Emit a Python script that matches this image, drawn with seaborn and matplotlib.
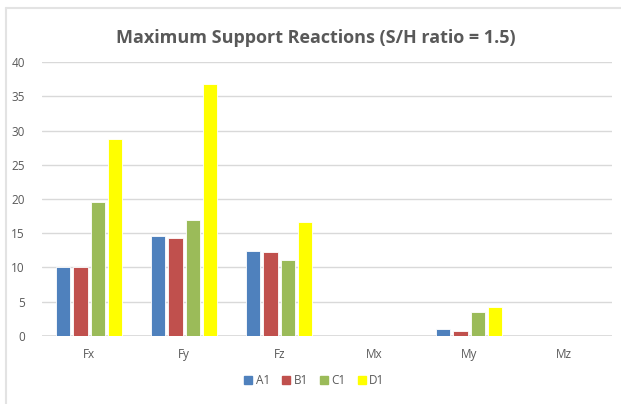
import pandas as pd
import seaborn as sns
import matplotlib.pyplot as plt
from matplotlib.lines import Line2D

categories = ['Fx', 'Fy', 'Fz', 'Mx', 'My', 'Mz']
series_names = ['A1', 'B1', 'C1', 'D1']
a1 = [10.0, 14.6, 12.45, 0, 1.05, 0]
b1 = [10.0, 14.25, 12.3, 0, 0.65, 0]
c1 = [19.55, 16.9, 11.1, 0, 3.5, 0]
d1 = [28.75, 36.85, 16.6, 0, 4.2, 0]
colors = ['#4F81BD', '#C0504D', '#9BBB59', '#FFFF00']

rows = []
for name, vals in zip(series_names, [a1, b1, c1, d1]):
    for cat, v in zip(categories, vals):
        rows.append({'cat': cat, 'series': name, 'value': v})
df = pd.DataFrame(rows)

sns.set_theme(style='white')
plt.rcParams['font.family'] = ['Open Sans', 'DejaVu Sans']
text_color = '#595959'
grid_color = '#D9D9D9'

fig = plt.figure(figsize=(6.21, 4.04), dpi=100)
ax = fig.add_axes([0.0671, 0.169, 0.918, 0.677])

sns.barplot(data=df, x='cat', y='value', hue='series', order=categories,
            hue_order=series_names, palette=colors, saturation=1, width=0.73,
            gap=0.18, edgecolor='white', linewidth=0.6, ax=ax, legend=False)

ax.set_ylim(0, 40)
ax.set_xlim(-0.5, 5.5)
ax.set_yticks(range(0, 41, 5))
ax.yaxis.grid(True, color=grid_color, linewidth=1)
ax.set_axisbelow(True)
for s in ax.spines.values():
    s.set_visible(False)
ax.axhline(0, color=grid_color, linewidth=1.2, zorder=0.5)
ax.tick_params(axis='both', length=0, labelsize=8.5, labelcolor=text_color)
ax.tick_params(axis='x', pad=9)
ax.tick_params(axis='y', pad=12)
ax.set_xlabel('')
ax.set_ylabel('')

fig.text(0.509, 0.905, 'Maximum Support Reactions (S/H ratio = 1.5)',
         ha='center', va='center', fontsize=13, fontweight='bold', color=text_color)

handles = [Line2D([], [], marker='s', linestyle='none', markersize=6,
                  markerfacecolor=c, markeredgecolor=c) for c in colors]
fig.legend(handles, series_names, loc='center', bbox_to_anchor=(0.505, 0.058),
           ncol=4, frameon=False, fontsize=8.5, labelcolor=text_color,
           handletextpad=0.1, columnspacing=0.9, handlelength=1.0)

# light chart border (top and left edges visible)
fig.add_artist(Line2D([6 / 621, 1], [1 - 7.5 / 404] * 2, transform=fig.transFigure,
                      color='#E3E3E3', linewidth=1.5))
fig.add_artist(Line2D([6 / 621] * 2, [0, 1 - 7.5 / 404], transform=fig.transFigure,
                      color='#E3E3E3', linewidth=1.5))

fig.savefig('out.png', dpi=100)
